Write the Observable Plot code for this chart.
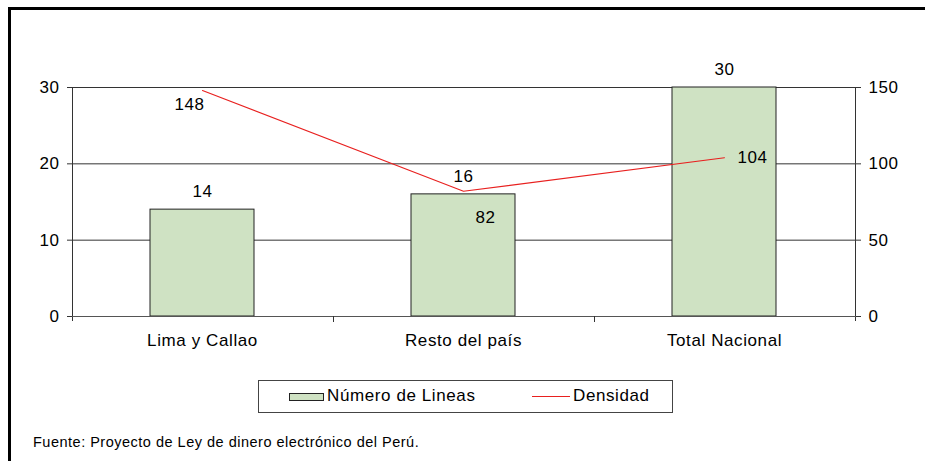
<!DOCTYPE html>
<html>
<head>
<meta charset="utf-8">
<script src="https://cdn.jsdelivr.net/npm/d3@7"></script>
<script src="https://cdn.jsdelivr.net/npm/@observablehq/plot@0.6"></script>
<style>
  html, body { margin: 0; padding: 0; background: #fff; }
  #page { position: relative; width: 925px; height: 461px; overflow: hidden; font-family: "Liberation Sans", Arial, sans-serif; color: #000; }
  #frame { position: absolute; left: 8px; top: 7px; width: 940px; height: 480px; border-top: 3px solid #000; border-left: 3px solid #000; }
  #chart { position: absolute; left: 0; top: 0; }
  #legend { position: absolute; left: 258px; top: 380px; width: 413px; height: 31px; border: 1px solid #444; background: #fff; font-size: 17px; letter-spacing: 0.6px; }
  #legend .swatch { position: absolute; left: 30px; top: 12px; width: 33px; height: 6px; background: #cfe2c3; border: 1px solid #222; }
  #legend .lab1 { position: absolute; left: 68px; top: 5px; }
  #legend .line { position: absolute; left: 273px; top: 15px; width: 38px; height: 1px; background: #e8201f; }
  #legend .lab2 { position: absolute; left: 314px; top: 5px; }
  #caption { position: absolute; left: 33px; top: 434px; font-size: 14.5px; letter-spacing: 0.5px; }
</style>
</head>
<body>
<div id="page">
  <div id="frame"></div>
  <div id="chart"></div>
  <div id="legend">
    <div class="swatch"></div><span class="lab1">Número de Lineas</span>
    <div class="line"></div><span class="lab2">Densidad</span>
  </div>
  <div id="caption">Fuente: Proyecto de Ley de dinero electrónico del Perú.</div>
</div>
<script>
// Regions and their values
const categories = ["Lima y Callao", "Resto del país", "Total Nacional"];
const numeroLineas = [14, 16, 30];
const densidad = [148, 82, 104];

// Axis ticks: left axis (lines), right axis (density)
const lineasTicks = [0, 10, 20, 30];
const densidadTicks = [0, 50, 100, 150];

// Density is drawn on the shared y scale: 150 density units = 30 line units
const ratio = densidadTicks[densidadTicks.length - 1] / lineasTicks[lineasTicks.length - 1];

const rows = categories.map((cat, i) => ({cat, lineas: numeroLineas[i], dens: densidad[i]}));

// Axis lines and category separator ticks, placed from the scales
function axisLines(index, scales, values, dim) {
  const g = d3.create("svg:g");
  const x = scales.x, y = scales.y;
  const left = dim.marginLeft, right = dim.width - dim.marginRight;
  const top = y(lineasTicks[lineasTicks.length - 1]), bottom = y(0);
  g.append("line").attr("x1", left + 0.5).attr("x2", left + 0.5).attr("y1", top).attr("y2", bottom + 5).attr("stroke", "#333");
  g.append("line").attr("x1", right + 0.5).attr("x2", right + 0.5).attr("y1", top).attr("y2", bottom + 5).attr("stroke", "#333");
  g.append("line").attr("x1", left - 5).attr("x2", right + 5).attr("y1", bottom + 0.5).attr("y2", bottom + 0.5).attr("stroke", "#555");
  const bw = x.bandwidth ? x.bandwidth() : 0;
  for (let i = 0; i < categories.length - 1; i++) {
    const bx = Math.round((x(categories[i]) + x(categories[i + 1]) + bw) / 2) + 0.5;
    g.append("line").attr("x1", bx).attr("x2", bx).attr("y1", bottom).attr("y2", bottom + 6).attr("stroke", "#333");
  }
  return g.node();
}

const font = 17;
const chart = Plot.plot({
  width: 925,
  height: 360,
  marginLeft: 72,
  marginRight: 70,
  marginTop: 87,
  marginBottom: 44,
  style: {fontFamily: "'Liberation Sans', Arial, sans-serif", fontSize: font + "px", letterSpacing: "0.6px", color: "#000", background: "transparent"},
  x: {domain: categories, paddingInner: 0.6, paddingOuter: 0.3, label: null},
  y: {domain: [0, lineasTicks[lineasTicks.length - 1]], label: null},
  marks: [
    Plot.gridY(lineasTicks.filter(d => d > 0), {stroke: "#333", strokeOpacity: 1}),
    Plot.barY(rows, {x: "cat", y: "lineas", fill: "#cfe2c3", stroke: "#222", strokeWidth: 1}),
    axisLines,
    Plot.axisY(lineasTicks, {anchor: "left", tickSize: 5, tickPadding: 8, label: null, fontSize: font, stroke: "#333"}),
    Plot.axisY(densidadTicks.map(d => d / ratio), {anchor: "right", tickSize: 5, tickPadding: 8, tickFormat: d => d * ratio, label: null, fontSize: font, stroke: "#333"}),
    Plot.axisX({tickSize: 0, tickPadding: 17, label: null, fontSize: font}),
    Plot.line(rows, {x: "cat", y: d => d.dens / ratio, stroke: "#e8201f", strokeWidth: 1.1}),
    // Bar value labels
    Plot.text(rows, {x: "cat", y: "lineas", text: d => String(d.lineas), dy: -18, fontSize: font, fill: "#000"}),
    // Density value labels
    Plot.text(rows, {filter: d => d.cat === categories[0], x: "cat", y: d => d.dens / ratio, text: d => String(d.dens), dx: -13, dy: 14, fontSize: font, fill: "#000"}),
    Plot.text(rows, {filter: d => d.cat === categories[1], x: "cat", y: d => d.dens / ratio, text: d => String(d.dens), dx: 22, dy: 26, fontSize: font, fill: "#000"}),
    Plot.text(rows, {filter: d => d.cat === categories[2], x: "cat", y: d => d.dens / ratio, text: d => String(d.dens), dx: 28, dy: 0, fontSize: font, fill: "#000"})
  ]
});
document.getElementById("chart").appendChild(chart);
</script>
</body>
</html>
